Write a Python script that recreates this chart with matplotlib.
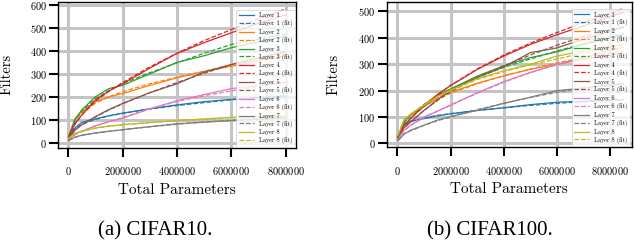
import numpy as np
import matplotlib
matplotlib.use("Agg")
import matplotlib.pyplot as plt

# ---- data (x in millions of parameters) ----
x10 = [0.02, 0.25, 0.5, 1, 1.5, 2, 3, 4, 5, 6, 7, 8]
c10_data = {
    "Layer 1": [20, 65, 89, 104, 118, 129, 148, 165, 179, 189, 195, 200],
    "Layer 2": [25, 105, 136, 179, 200, 214, 250, 283, 310, 333, 357, 377],
    "Layer 3": [25, 100, 143, 200, 236, 250, 300, 350, 379, 414, 440, 465],
    "Layer 4": [25, 85, 121, 186, 225, 257, 325, 389, 436, 479, 520, 557],
    "Layer 5": [15, 55, 79, 114, 145, 171, 218, 257, 308, 341, 370, 395],
    "Layer 6": [12, 38, 50, 74, 92, 107, 148, 183, 210, 236, 250, 263],
    "Layer 7": [10, 25, 33, 43, 50, 57, 70, 83, 90, 97, 103, 108],
    "Layer 8": [18, 40, 50, 65, 73, 79, 88, 97, 104, 111, 113, 115],
}
c10_fit = {
    "Layer 1": [25, 62, 80, 102, 117, 128, 147, 162, 175, 187, 197, 206],
    "Layer 2": [30, 100, 130, 172, 200, 222, 257, 285, 312, 340, 360, 380],
    "Layer 3": [28, 98, 138, 192, 228, 257, 305, 348, 390, 428, 452, 473],
    "Layer 4": [20, 80, 120, 180, 225, 262, 330, 390, 445, 493, 540, 583],
    "Layer 5": [15, 55, 78, 112, 143, 170, 218, 262, 303, 340, 370, 398],
    "Layer 6": [10, 35, 50, 73, 92, 110, 148, 180, 205, 226, 246, 265],
    "Layer 7": [10, 24, 32, 42, 50, 57, 70, 81, 90, 98, 105, 112],
    "Layer 8": [20, 40, 50, 63, 72, 78, 88, 96, 103, 109, 113, 117],
}

x100 = [0.02, 0.25, 0.5, 1, 1.5, 2, 3, 4, 5, 6, 7, 8, 8.5]
c100_data = {
    "Layer 1": [20, 72, 85, 94, 104, 112, 125, 135, 147, 156, 160, 164, 165],
    "Layer 2": [25, 85, 106, 140, 170, 194, 228, 256, 281, 300, 318, 335, 342],
    "Layer 3": [25, 80, 110, 140, 180, 206, 255, 294, 325, 347, 375, 400, 412],
    "Layer 4": [25, 70, 94, 144, 185, 219, 280, 331, 375, 412, 445, 480, 497],
    "Layer 5": [20, 60, 81, 125, 165, 202, 250, 290, 344, 362, 395, 425, 440],
    "Layer 6": [15, 50, 69, 100, 122, 144, 192, 234, 269, 300, 325, 352, 365],
    "Layer 7": [10, 35, 50, 69, 88, 102, 125, 152, 175, 200, 210, 220, 225],
    "Layer 8": [30, 90, 112, 144, 178, 202, 245, 275, 300, 331, 350, 368, 375],
}
c100_fit = {
    "Layer 1": [30, 68, 82, 97, 106, 113, 125, 135, 144, 152, 158, 164, 167],
    "Layer 2": [30, 82, 108, 142, 168, 190, 226, 256, 282, 305, 325, 342, 350],
    "Layer 3": [30, 78, 108, 148, 180, 206, 250, 288, 320, 350, 378, 403, 415],
    "Layer 4": [22, 68, 96, 140, 182, 220, 282, 335, 380, 420, 458, 494, 512],
    "Layer 5": [20, 58, 82, 125, 162, 196, 250, 294, 335, 372, 405, 430, 442],
    "Layer 6": [12, 48, 68, 98, 122, 146, 190, 232, 268, 298, 326, 352, 364],
    "Layer 7": [12, 36, 48, 68, 86, 100, 128, 152, 174, 194, 210, 222, 228],
    "Layer 8": [32, 88, 110, 145, 176, 200, 242, 272, 298, 320, 343, 362, 372],
}

colors = ["#1f77b4", "#ff7f0e", "#2ca02c", "#d62728",
          "#8c564b", "#e377c2", "#7f7f7f", "#bcbd22"]

plt.rcParams["font.family"] = ["cmr10", "DejaVu Serif"]
plt.rcParams["axes.formatter.use_mathtext"] = True

fig = plt.figure(figsize=(6.34, 2.42), dpi=100)
ax1 = fig.add_axes([0.0915, 0.388, 0.3754, 0.605])
ax2 = fig.add_axes([0.610, 0.391, 0.3864, 0.602])


def draw(ax, xs, data, fit, xlim, ylim, yticks, ylab_x):
    xs = np.array(xs) * 1e6
    for (name, vals), c in zip(data.items(), colors):
        ax.plot(xs, vals, color=c, lw=0.9, label=name)
        ax.plot(xs, fit[name], color=c, lw=0.9, ls="--", label=name + " (fit)")
    ax.set_xlim(*xlim)
    ax.set_ylim(*ylim)
    ax.set_xticks([0, 2000000, 4000000, 6000000, 8000000])
    ax.set_yticks(yticks)
    ax.ticklabel_format(style="plain", useOffset=False)
    ax.grid(True, color="#c4c4c4", lw=2.2)
    ax.set_axisbelow(True)
    for s in ax.spines.values():
        s.set_color("black")
        s.set_linewidth(1.0)
    ax.tick_params(axis="both", direction="out", length=6.5, width=1.5,
                   color="black", labelsize=7.5)
    ax.tick_params(axis="y", pad=1.5)
    ax.tick_params(axis="x", pad=6)
    ax.set_xlabel("Total Parameters", fontsize=11)
    ax.set_ylabel("Filters", fontsize=10.5)
    ax.xaxis.set_label_coords(0.5, -0.24)
    ax.yaxis.set_label_coords(ylab_x, 0.5)
    leg = ax.legend(loc="lower right", fontsize=4.5, labelspacing=0.3,
                    handlelength=2.4, borderaxespad=0.2, framealpha=0.8,
                    edgecolor="#cccccc", fancybox=False)
    leg.get_frame().set_linewidth(0.6)


draw(ax1, x10, c10_data, c10_fit, (-370000, 8370000), (-23, 614),
     [0, 100, 200, 300, 400, 500, 600], -0.185)
draw(ax2, x100, c100_data, c100_fit, (-400000, 8810000), (-15, 537),
     [0, 100, 200, 300, 400, 500], -0.19)

fig.text(0.244, 0.048, "(a) CIFAR10.", ha="center", va="center",
         fontsize=15, family="Liberation Serif")
fig.text(0.773, 0.048, "(b) CIFAR100.", ha="center", va="center",
         fontsize=15, family="Liberation Serif")

fig.savefig("out.png", dpi=100)
